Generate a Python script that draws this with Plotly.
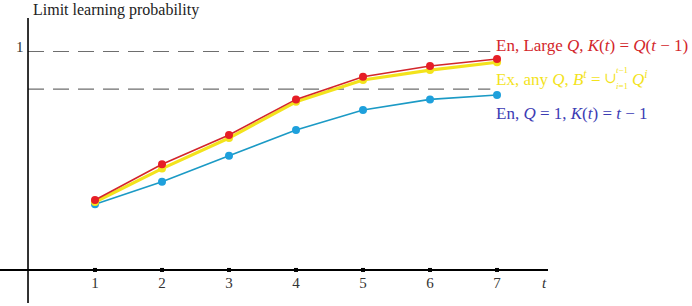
import plotly.graph_objects as go

t_vals = [1, 2, 3, 4, 5, 6, 7]
tick_labels = ["1", "2", "3", "4", "5", "6", "7"]
red_vals = [0.320, 0.484, 0.618, 0.781, 0.885, 0.934, 0.966]
yellow_vals = [0.311, 0.464, 0.604, 0.770, 0.870, 0.915, 0.951]
blue_vals = [0.301, 0.404, 0.523, 0.641, 0.732, 0.781, 0.801]
ref_levels = [1.0, 0.828]

W, H = 692, 306
X_RANGE = [-0.418, 9.91]
Y_RANGE = [-0.165, 1.236]

def px_x(p):
    return p / W

def px_y(p):
    return 1 - p / H

FONT = "Liberation Serif, DejaVu Serif, serif"
RED = "#d3262b"
RED_M = "#e61e26"
YEL = "#f3e31c"
BLUE_L = "#1b9ac5"
BLUE_M = "#1ea0dc"
LBL_BLUE = "#3c3cb4"

fig = go.Figure()

for lv in ref_levels:
    fig.add_shape(type="line", xref="x", yref="y", x0=0, x1=6.9, y0=lv, y1=lv,
                  line=dict(color="#6e6e6e", width=1.1, dash="16px,9px"), layer="below")

fig.add_trace(go.Scatter(x=t_vals, y=blue_vals, mode="lines+markers",
                         line=dict(color=BLUE_L, width=1.6),
                         marker=dict(color=BLUE_M, size=8), showlegend=False))
fig.add_trace(go.Scatter(x=t_vals, y=yellow_vals, mode="lines+markers",
                         line=dict(color=YEL, width=3.2),
                         marker=dict(color=YEL, size=8), showlegend=False))
fig.add_trace(go.Scatter(x=t_vals, y=red_vals, mode="lines+markers",
                         line=dict(color=RED, width=1.6),
                         marker=dict(color=RED_M, size=8), showlegend=False))

fig.add_shape(type="line", xref="paper", yref="y", x0=0, x1=px_x(548), y0=0, y1=0,
              line=dict(color="black", width=2))
fig.add_shape(type="line", xref="x", yref="paper", x0=0, x1=0, y0=px_y(303), y1=px_y(18),
              line=dict(color="black", width=1.6))

fig.add_trace(go.Scatter(x=t_vals, y=[0] * len(t_vals), mode="markers",
                         marker=dict(color="black", size=4, symbol="square"),
                         showlegend=False))

fig.update_xaxes(range=X_RANGE, showgrid=False, zeroline=False, showline=False,
                 tickvals=t_vals, ticktext=tick_labels, ticks="",
                 anchor="free", position=px_y(270), ticklabelstandoff=2,
                 tickfont=dict(family=FONT, size=15, color="#333333"))
fig.update_yaxes(range=Y_RANGE, showgrid=False, zeroline=False, showline=False,
                 showticklabels=False, ticks="")

ann = [
    dict(text="Limit learning probability", x=px_x(32), y=px_y(10), color="#222222", size=16),
    dict(text="1", x=px_x(15), y=px_y(47), color="#333333", size=15),
    dict(text="<i>t</i>", x=px_x(541), y=px_y(283), color="#333333", size=15),
    dict(text="En, Large <i>Q</i>, <i>K</i>(<i>t</i>) = <i>Q</i>(<i>t</i> − 1)",
         x=px_x(495), y=px_y(45), color=RED, size=17),
    dict(text="Ex, any <i>Q</i>, <i>B<sup>t</sup></i> =",
         x=px_x(495), y=px_y(78), color=YEL, size=17),
    dict(text="∪", x=px_x(603), y=px_y(78), color=YEL, size=15),
    dict(text="<i>t</i>−1", x=px_x(615), y=px_y(70), color=YEL, size=9),
    dict(text="<i>i</i>=1", x=px_x(615), y=px_y(86), color=YEL, size=9),
    dict(text="<i>Q<sup>i</sup></i>", x=px_x(631), y=px_y(78), color=YEL, size=17),
    dict(text="En, <i>Q</i> = 1, <i>K</i>(<i>t</i>) = <i>t</i> − 1",
         x=px_x(495), y=px_y(113), color=LBL_BLUE, size=17),
]
for a in ann:
    fig.add_annotation(text=a["text"], xref="paper", yref="paper", x=a["x"], y=a["y"],
                       xanchor="left", yanchor="middle", showarrow=False, borderpad=0,
                       font=dict(family=FONT, size=a["size"], color=a["color"]))

fig.update_layout(width=W, height=H, margin=dict(l=0, r=0, t=0, b=0),
                  plot_bgcolor="white", paper_bgcolor="white")

fig.write_html("out.html", config={"displayModeBar": False},
               post_script="document.body.style.margin='0';document.body.style.overflow='hidden';")
